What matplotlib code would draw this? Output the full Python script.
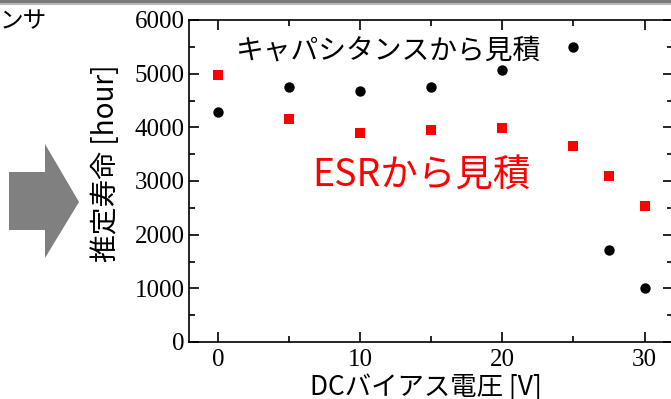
import matplotlib
matplotlib.use("Agg")
import matplotlib.pyplot as plt
from matplotlib.patches import Polygon, Rectangle
from matplotlib.ticker import MultipleLocator

# DC bias voltage [V]
bias_v = [0, 5, 10, 15, 20, 25, 27.5, 30]
# estimated lifetime [hour]
life_cap = [4280, 4760, 4680, 4750, 5060, 5500, 1720, 1000]   # from capacitance
life_esr = [4970, 4150, 3900, 3950, 3990, 3650, 3090, 2530]   # from ESR

JP = ["Noto Sans CJK JP", "DejaVu Sans"]
SERIF = "Liberation Serif"

W, H = 671, 399
fig = plt.figure(figsize=(W / 100, H / 100), dpi=100)

# slide decorations: top bar, cut-off heading, gray arrow
fig.add_artist(Rectangle((0, 1 - 3 / H), 1, 3 / H, transform=fig.transFigure,
                         color="#7a7a7a", lw=0))
fig.add_artist(Rectangle((0, 1 - 5 / H), 1, 2 / H, transform=fig.transFigure,
                         color="#b8b8b8", lw=0))
fig.text(0, 1 - 22 / H, "ンサ", family=JP, fontsize=17, va="center", ha="left")
arrow = [(9, 172), (45, 172), (45, 144), (79, 202), (45, 258), (45, 230), (9, 230)]
fig.add_artist(Polygon([(x / W, 1 - y / H) for x, y in arrow], closed=True,
                       transform=fig.transFigure, color="#808080", lw=0))

ax = fig.add_axes([189 / W, 1 - 342 / H, (673 - 189) / W, (342 - 20) / H])
ax.scatter(bias_v, life_cap, marker="o", s=56, color="black", lw=0, zorder=3)
ax.scatter(bias_v, life_esr, marker="s", s=58, color="red", lw=0, zorder=3)

ax.set_xlim(-2.05, 32)
ax.set_ylim(0, 6000)
ax.xaxis.set_major_locator(MultipleLocator(10))
ax.xaxis.set_minor_locator(MultipleLocator(5))
ax.yaxis.set_major_locator(MultipleLocator(1000))
ax.yaxis.set_minor_locator(MultipleLocator(500))
ax.tick_params(which="both", direction="in", top=True, right=True, width=1.2)
ax.tick_params(which="major", length=7, labelsize=18)
ax.tick_params(axis="y", which="major", pad=3)
ax.tick_params(axis="x", which="major", pad=5)
ax.tick_params(which="minor", length=4)
for lab in ax.get_xticklabels() + ax.get_yticklabels():
    lab.set_family(SERIF)
for sp in ax.spines.values():
    sp.set_linewidth(1.2)

ax.set_xlabel("DCバイアス電圧 [V]", family=JP, fontsize=19)
ax.xaxis.set_label_coords(0.49, -0.142, transform=ax.transAxes)
ax.xaxis.label.set_va("center")
ax.set_ylabel("推定寿命 [hour]", family=JP, fontsize=20)
ax.yaxis.set_label_coords(-0.172, 0.555, transform=ax.transAxes)
ax.yaxis.label.set_va("center")

ax.text(0.095, 0.905, "キャパシタンスから見積", transform=ax.transAxes, family=JP,
        fontsize=20, color="black", va="center", ha="left")
ax.text(0.254, 0.515, "ESRから見積", transform=ax.transAxes, family=JP,
        fontsize=27, color="red", va="center", ha="left")

fig.savefig("out.png", dpi=100)
